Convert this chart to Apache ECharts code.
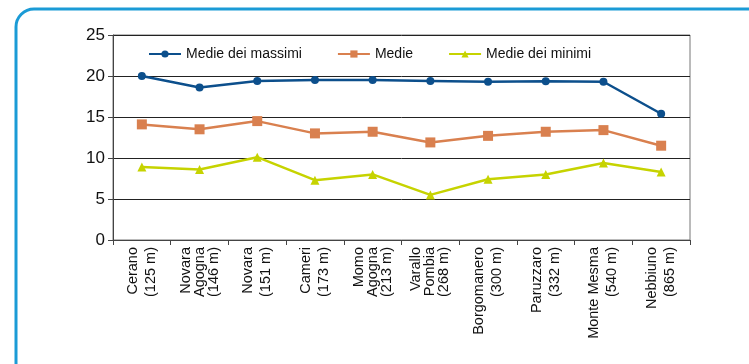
<!DOCTYPE html>
<html>
<head>
<meta charset="utf-8">
<script src="https://cdn.jsdelivr.net/npm/echarts@6/dist/echarts.min.js"></script>
<style>
  html, body { margin: 0; padding: 0; background: #fff; }
  #chart { width: 749px; height: 364px; }
</style>
</head>
<body>
<div id="chart"></div>
<script>
// stazioni con quota
const stazioni = [
  "Cerano\n(125 m)", "Novara\nAgogna\n(146 m)", "Novara\n(151 m)", "Cameri\n(173 m)",
  "Momo\nAgogna\n(213 m)", "Varallo\nPombia\n(268 m)", "Borgomanero\n(300 m)",
  "Paruzzaro\n(332 m)", "Monte Mesma\n(540 m)", "Nebbiuno\n(865 m)"
];
const medieMassimi = [20.0, 18.6, 19.4, 19.5, 19.5, 19.4, 19.3, 19.35, 19.3, 15.4];
const medie = [14.1, 13.5, 14.5, 13.0, 13.2, 11.9, 12.7, 13.2, 13.4, 11.5];
const medieMinimi = [8.9, 8.6, 10.1, 7.3, 8.0, 5.5, 7.4, 8.0, 9.4, 8.3];
const yTicks = [0, 5, 10, 15, 20, 25];

const myChart = echarts.init(document.getElementById("chart"));

const labelFont = { fontFamily: "Liberation Sans", fontSize: 14.5, color: "#111", align: "right" };

const option = {
  animation: false,
  graphic: [
    {
      type: "rect",
      shape: { x: 16, y: 9, width: 780, height: 400, r: 18 },
      style: { fill: "none", stroke: "#1b9bd6", lineWidth: 3 },
      z: -1,
    },
  ],
  legend: {
    left: 143,
    top: 42,
    itemWidth: 32,
    itemHeight: 9,
    itemGap: 35,
    textStyle: { fontFamily: "Liberation Sans", fontSize: 14, color: "#111" },
    data: ["Medie dei massimi", "Medie", "Medie dei minimi"],
  },
  grid: {
    left: 113,
    right: 59,
    top: 35,
    bottom: 124,
    show: true,
    borderColor: "#777",
    borderWidth: 1,
  },
  xAxis: {
    type: "category",
    data: stazioni,
    boundaryGap: true,
    axisLine: { lineStyle: { color: "#444", width: 1 } },
    axisTick: { show: true, length: 5, lineStyle: { color: "#444" } },
    axisLabel: {
      rotate: 90,
      interval: 0,
      margin: 7,
      formatter: function (value) {
        // le etichette su tre righe sono più fitte
        const style = value.split("\n").length > 2 ? "t3" : "t2";
        return value.split("\n").map(function (r) {
          return "{" + style + "|" + r + "}";
        }).join("\n");
      },
      rich: {
        t2: Object.assign({ lineHeight: 18 }, labelFont),
        t3: Object.assign({ lineHeight: 14 }, labelFont),
      },
    },
  },
  yAxis: {
    type: "value",
    min: yTicks[0],
    max: yTicks[yTicks.length - 1],
    interval: 5,
    axisLine: { show: true, lineStyle: { color: "#444" } },
    axisTick: { show: true, length: 5, lineStyle: { color: "#444" } },
    splitLine: { lineStyle: { color: "#222", width: 1 } },
    axisLabel: {
      margin: 8,
      fontFamily: "Liberation Sans",
      fontSize: 17,
      color: "#111",
    },
  },
  series: [
    {
      name: "Medie dei massimi",
      type: "line",
      data: medieMassimi,
      symbol: "circle",
      symbolSize: 8,
      color: "#0c4f8c",
      lineStyle: { width: 2.5, color: "#0c4f8c" },
      itemStyle: { color: "#0c4f8c" },
    },
    {
      name: "Medie",
      type: "line",
      data: medie,
      symbol: "rect",
      symbolSize: 10,
      color: "#d9804f",
      lineStyle: { width: 2.5, color: "#d9804f" },
      itemStyle: { color: "#d9804f" },
    },
    {
      name: "Medie dei minimi",
      type: "line",
      data: medieMinimi,
      symbol: "triangle",
      symbolSize: 9,
      color: "#c6d300",
      lineStyle: { width: 2.5, color: "#c6d300" },
      itemStyle: { color: "#c6d300" },
    },
  ],
};
myChart.setOption(option);
</script>
</body>
</html>
